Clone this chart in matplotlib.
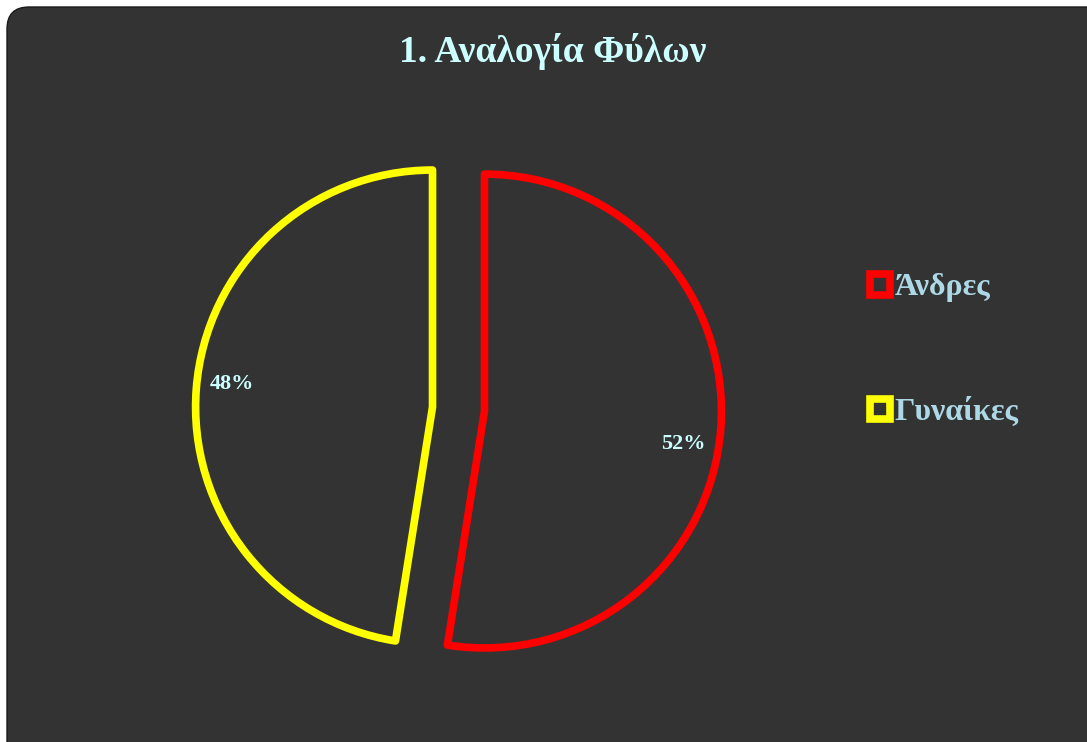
import numpy as np
import matplotlib.pyplot as plt
from matplotlib.patches import FancyBboxPatch

# data
labels = ['Άνδρες', 'Γυναίκες']
shares = [52.5, 47.5]
colors = ['#ff0000', '#ffff00']

bg = '#333333'
title_col = '#ccffff'
legend_col = '#add8e6'
serif = ['Liberation Serif', 'DejaVu Serif']

fig = plt.figure(figsize=(10.87, 7.42), dpi=100)
fig.patch.set_facecolor('white')

# rounded dark panel
bgax = fig.add_axes([0, 0, 1, 1])
bgax.set_xlim(0, 1087)
bgax.set_ylim(742, 0)
bgax.axis('off')
bgax.add_patch(FancyBboxPatch((7, 7), 1110, 770,
                              boxstyle='round,pad=0,rounding_size=22',
                              facecolor=bg, edgecolor='#1a1a1a', linewidth=1))

# pie axes
W, H = 1087, 742
side = 616
ax = fig.add_axes([(458.5 - side / 2) / W, (H - 409 - side / 2) / H, side / W, side / H])
ax.set_facecolor('none')
wedges, texts, autotexts = ax.pie(
    shares, colors=[bg, bg], startangle=90, counterclock=False,
    explode=[0.11, 0.11], autopct='%1.0f%%', pctdistance=0.85,
    wedgeprops=dict(linewidth=5.5, joinstyle='round'),
    textprops=dict(color=title_col, fontsize=16, fontweight='bold', family=serif))
# labels sit a little clockwise of the wedge middle
shift = [-5, -2]
for w, c, t, s in zip(wedges, colors, autotexts, shift):
    w.set_edgecolor(c)
    ang = np.deg2rad((w.theta1 + w.theta2) / 2 + s)
    cx, cy = w.center
    t.set_position((cx + 0.85 * np.cos(ang), cy + 0.85 * np.sin(ang)))
ax.set_xlim(-1.3, 1.3)
ax.set_ylim(-1.3, 1.3)
ax.set_aspect('equal')
ax.axis('off')

fig.text(0.508, 0.930, '1. Αναλογία Φύλων', ha='center', va='center',
         color=title_col, fontsize=27, fontweight='bold', family=serif)

leg = fig.legend(wedges, labels, loc='upper left', bbox_to_anchor=(0.7855, 0.653),
                 frameon=False, borderpad=0, handlelength=0.62, handleheight=0.62,
                 handletextpad=0.15, labelspacing=2.97,
                 prop=dict(family=serif, size=23, weight='bold'))
for t in leg.get_texts():
    t.set_color(legend_col)

fig.savefig('out.png', dpi=100, facecolor=fig.get_facecolor())
